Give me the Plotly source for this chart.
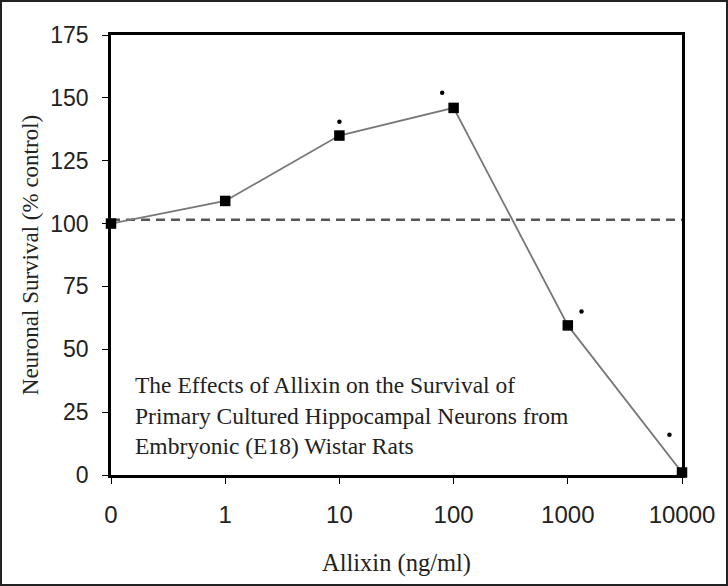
import plotly.graph_objects as go

categories = ["0", "1", "10", "100", "1000", "10000"]
survival = [100, 109, 135, 146, 59.5, 1]
control_level = 101.5
star_pos = [2.0, 2.9, 4.12, 4.89]
star_val = [140.5, 152, 65, 16]
y_ticks = [0, 25, 50, 75, 100, 125, 150, 175]

idx = list(range(len(categories)))

L, R, T, B = 111, 46, 35, 111
W, H = 728, 586
pw, ph = W - L - R, H - T - B

fig = go.Figure()
fig.add_trace(go.Scatter(
    x=[idx[0], idx[-1]], y=[control_level, control_level], mode="lines",
    line=dict(color="#555555", width=2.5, dash="9px,6px"), showlegend=False, hoverinfo="skip"))
fig.add_trace(go.Scatter(
    x=idx, y=survival, mode="lines+markers",
    line=dict(color="#777777", width=1.8),
    marker=dict(symbol="square", size=10.5, color="black"),
    showlegend=False, cliponaxis=False))
fig.add_trace(go.Scatter(
    x=star_pos, y=star_val, mode="markers",
    marker=dict(symbol="circle", size=4.5, color="black"), showlegend=False))

serif = "Liberation Serif, Times New Roman, serif"
sans = "Liberation Sans, Arial, sans-serif"

fig.add_annotation(
    x=(133 - L) / pw, y=(T + ph - 415) / ph, xref="paper", yref="paper",
    xanchor="left", yanchor="middle", align="left", showarrow=False,
    text="The Effects of Allixin on the Survival of<br>Primary Cultured Hippocampal Neurons from<br>Embryonic (E18) Wistar Rats",
    font=dict(family=serif, size=23.5, color="#222222"))

fig.add_shape(type="rect", xref="paper", yref="paper",
              x0=(1 - L) / pw, x1=(W - 1 - L) / pw,
              y0=(T + ph - (H - 1)) / ph, y1=(T + ph - 1) / ph,
              line=dict(color="#222222", width=2), layer="above")

fig.update_layout(
    width=W, height=H, margin=dict(l=L, r=R, t=T, b=B),
    paper_bgcolor="white", plot_bgcolor="white",
    xaxis=dict(range=[0, 5], tickvals=idx, ticktext=categories,
               showgrid=False, zeroline=False, showline=True, mirror=True,
               linecolor="black", linewidth=2.5, ticks="outside", ticklen=6,
               tickcolor="black", tickwidth=1,
               tickfont=dict(family=sans, size=24, color="#222222"),
               ticklabelstandoff=10,
               title=dict(text="Allixin (ng/ml)", font=dict(family=serif, size=24.5, color="#222222"),
                          standoff=28)),
    yaxis=dict(range=[0, 175], tickvals=y_ticks,
               showgrid=False, zeroline=False, showline=True, mirror=True,
               linecolor="black", linewidth=2.5, ticks="outside", ticklen=6,
               tickcolor="black", tickwidth=1,
               tickfont=dict(family=sans, size=23, color="#222222"),
               ticklabelstandoff=9,
               title=dict(text="Neuronal Survival (% control)", font=dict(family=serif, size=23, color="#222222"),
                          standoff=6)),
)

fig.write_html("out.html", config={"displayModeBar": False},
               post_script="document.body.style.margin='0';")
